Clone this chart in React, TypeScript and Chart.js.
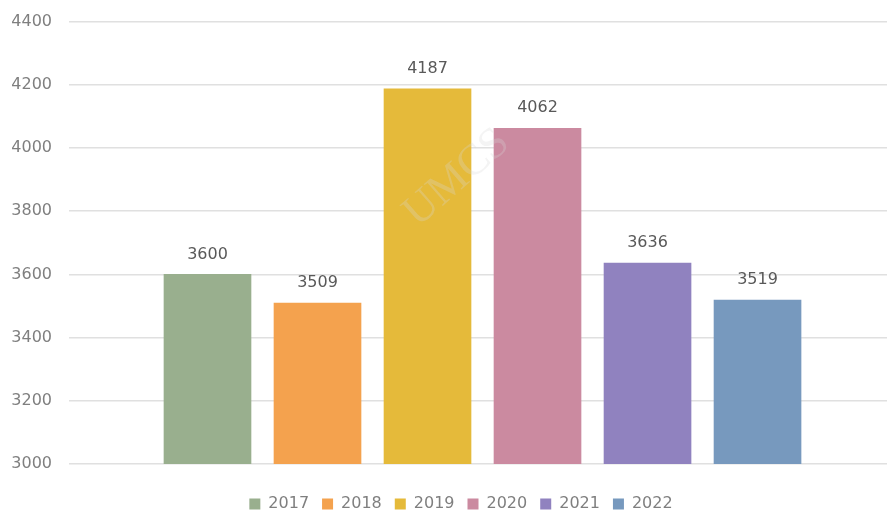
import React, { useEffect, useRef } from "react";
import { Chart, registerables } from "chart.js";

Chart.register(...registerables);

const years = ["2017", "2018", "2019", "2020", "2021", "2022"];
const values = [3600, 3509, 4187, 4062, 3636, 3519];
const colors = ["#99AF8E", "#F4A24E", "#E5BA3A", "#CB8AA0", "#9082BF", "#7799BE"];
const yTicks = [3000, 3200, 3400, 3600, 3800, 4000, 4200, 4400];
const watermark = "UMCS";

const FONT = "'DejaVu Sans', sans-serif";

const valueLabels = {
  id: "valueLabels",
  afterDatasetsDraw(chart: any) {
    const ctx = chart.ctx;
    ctx.save();
    ctx.font = `16px ${FONT}`;
    ctx.fillStyle = "#595959";
    ctx.textAlign = "center";
    ctx.textBaseline = "middle";
    chart.data.datasets.forEach((ds: any, i: number) => {
      const meta = chart.getDatasetMeta(i);
      meta.data.forEach((bar: any, j: number) => {
        const v = ds.data[j].y;
        ctx.fillText(String(v), bar.x, bar.y - 20);
      });
    });
    ctx.restore();
  },
};

const watermarkPlugin = {
  id: "watermark",
  afterDatasetsDraw(chart: any) {
    const ctx = chart.ctx;
    ctx.save();
    ctx.translate(457, 178);
    ctx.rotate(-0.72);
    ctx.font = `44px 'Liberation Serif', serif`;
    ctx.fillStyle = "rgba(215,215,215,0.28)";
    ctx.textAlign = "center";
    ctx.textBaseline = "middle";
    ctx.fillText(watermark, 0, 0);
    ctx.restore();
  },
};

const legendShift = {
  id: "legendShift",
  afterLayout(chart: any) {
    const lg = chart.legend;
    if (lg) {
      lg.left += 17.5;
      lg.right += 17.5;
    }
  },
};

export default function App() {
  const ref = useRef<HTMLCanvasElement>(null);
  useEffect(() => {
    if (!ref.current) return;
    const chart = new Chart(ref.current, {
      type: "bar",
      data: {
        datasets: years.map((y, i) => ({
          label: y,
          data: [{ x: i, y: values[i] }],
          backgroundColor: colors[i],
          borderWidth: 0,
          barThickness: 87,
          grouped: false,
        })),
      },
      options: {
        animation: false,
        responsive: true,
        maintainAspectRatio: false,
        layout: { padding: { top: 21.5, right: 0, left: 0, bottom: -12 } },
        scales: {
          x: {
            type: "linear",
            min: -1.259,
            max: 6.177,
            offset: false,
            display: true,
            grid: { display: false, offset: false },
            border: { display: false },
            ticks: { display: false },
            afterFit: (s: any) => {
              s.height = 19;
            },
          },
          y: {
            min: 3000,
            max: 4400,
            afterBuildTicks: (s: any) => {
              s.ticks = yTicks.map((v) => ({ value: v }));
            },
            afterFit: (s: any) => {
              s.width = 69;
              s.paddingTop = 0;
              s.paddingBottom = 0;
            },
            border: { display: false },
            grid: { color: "#e0e0e0", lineWidth: 1.5, drawTicks: false },
            ticks: {
              color: "#7f7f7f",
              font: { family: FONT, size: 16 },
              padding: 17,
              callback: (v: any) => String(v),
            },
          },
        },
        plugins: {
          legend: {
            position: "bottom",
            labels: {
              boxWidth: 11,
              boxHeight: 11,
              padding: 13,
              color: "#7f7f7f",
              font: { family: FONT, size: 16 },
            },
          },
          tooltip: { enabled: false },
        },
      },
      plugins: [valueLabels, watermarkPlugin, legendShift],
    });
    return () => chart.destroy();
  }, []);
  return (
    <div style={{ position: "absolute", left: 0, top: 0, width: 887, height: 510, background: "#fff" }}>
      <canvas ref={ref} />
    </div>
  );
}
